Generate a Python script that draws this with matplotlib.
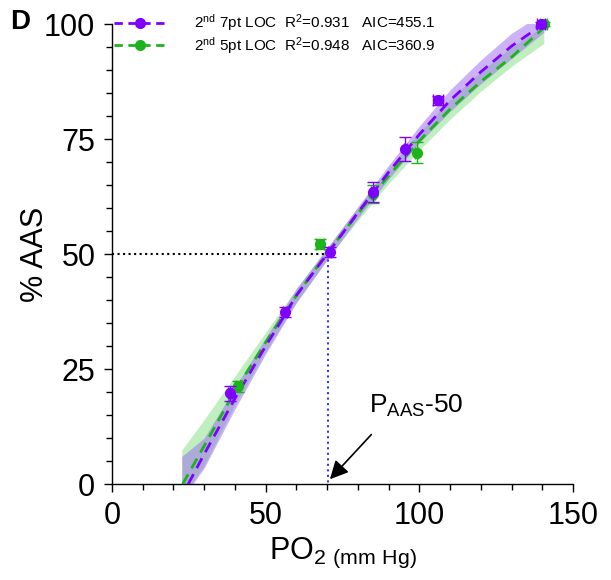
import numpy as np
import matplotlib
matplotlib.use("Agg")
import matplotlib.pyplot as plt
from matplotlib.lines import Line2D

plt.rcParams['font.family'] = ['Liberation Sans', 'DejaVu Sans']
plt.rcParams['mathtext.default'] = 'regular'

# measured points (PO2, %AAS) with errors
px7 = [38.4, 56.3, 70.9, 84.8, 95.5, 106.2, 139.6]
py7 = [19.7, 37.4, 50.4, 63.5, 72.8, 83.4, 100.0]
px7_err = [0.6, 0.5, 0.5, 0.5, 0.6, 1.6, 1.2]
py7_err = [1.7, 1.0, 1.1, 2.2, 2.6, 1.0, 0.5]

px5 = [41.0, 67.7, 85.0, 99.2, 140.5]
py5 = [21.3, 52.2, 63.0, 72.0, 100.0]
px5_err = [0.6, 1.2, 0.5, 0.5, 1.2]
py5_err = [1.2, 1.0, 2.0, 2.3, 0.5]

# fitted curves
fit7_x = [24.8, 30, 40, 50, 56.3, 60, 70, 80, 90, 100, 110, 120, 130, 140.3]
fit7_y = [0.0, 6.5, 18.6, 30.0, 36.8, 41.0, 50.0, 59.0, 67.8, 76.0, 83.4, 89.6, 95.2, 100.0]
fit5_x = [23.0, 30, 40, 50, 60, 70, 80, 90, 100, 110, 120, 130, 141.0]
fit5_y = [0.0, 8.3, 20.2, 30.8, 41.0, 50.2, 58.8, 67.0, 74.6, 81.5, 87.5, 92.8, 99.5]

# confidence bands
band_x = [22.7, 30, 40, 50, 60, 70, 80, 90, 100, 110, 120, 130, 140.5]
band7_lo = [-3.5, 3.5, 16.3, 28.3, 39.4, 48.7, 57.8, 66.3, 74.2, 81.0, 87.0, 92.5, 98.2]
band7_hi = [6.0, 10.0, 21.0, 31.8, 42.5, 51.3, 60.3, 69.3, 77.8, 85.7, 92.2, 98.0, 102.5]
band5_lo = [-3.0, 4.0, 17.3, 28.8, 39.6, 48.9, 57.3, 65.3, 72.6, 79.3, 85.4, 90.8, 95.8]
band5_hi = [7.4, 14.0, 23.5, 33.0, 42.5, 51.4, 60.1, 68.6, 76.5, 83.6, 89.7, 95.0, 99.6]

p50_x = 70.3
p50_y = 50

purple = '#7f00ff'
green = '#1db31d'

fig = plt.figure(figsize=(6.11, 5.8), dpi=100)
ax = fig.add_axes([0.1833, 0.1655, 0.7545, 0.793])

ax.fill_between(band_x, band5_lo, band5_hi, color='#80e080', alpha=0.5, lw=0, zorder=1)
ax.fill_between(band_x, band7_lo, band7_hi, color='#9a68f0', alpha=0.5, lw=0, zorder=2)

ax.plot([0, p50_x], [p50_y, p50_y], color='black', ls=':', lw=1.5, zorder=3)
ax.plot([p50_x, p50_x], [p50_y, 0], color='#3a3ad0', ls=':', lw=1.5, zorder=3)

ax.plot(fit5_x, fit5_y, color=green, ls=(0, (4, 2.5)), lw=2, zorder=4)
ax.plot(fit7_x, fit7_y, color=purple, ls=(0, (4, 2.5)), lw=2, zorder=5)

ax.errorbar(px5, py5, xerr=px5_err, yerr=py5_err, fmt='o', color=green, ms=7,
            elinewidth=1, capsize=4, capthick=1, zorder=6, clip_on=False)
ax.errorbar(px7, py7, xerr=px7_err, yerr=py7_err, fmt='o', color=purple, ms=7,
            elinewidth=1, capsize=4, capthick=1, zorder=7, clip_on=False)

ax.annotate('', xy=(p50_x, 0.6), xytext=(85.0, 11.2),
            arrowprops=dict(arrowstyle='-|>,head_length=1.1,head_width=0.55',
                            color='black', lw=1.2), annotation_clip=False, zorder=8)
ax.text(83.5, 15.5, r'P$_{AAS}$-50', fontsize=19, ha='left', va='baseline')

ax.set_xlim(0, 150)
ax.set_ylim(0, 100)
ax.set_xticks([0, 50, 100, 150])
ax.set_xticks(np.arange(0, 151, 10), minor=True)
ax.set_yticks([0, 25, 50, 75, 100])
ax.set_yticks(np.arange(0, 101, 5), minor=True)
ax.tick_params(labelsize=22, width=1, length=6, pad=6)
ax.tick_params(which='minor', width=1, length=4)
for s in ['top', 'right']:
    ax.spines[s].set_visible(False)
ax.spines['left'].set_linewidth(1)
ax.spines['bottom'].set_linewidth(1)

ax.set_xlabel(r'PO$_{2\ (mm\ Hg)}$', fontsize=22, labelpad=4)
ax.set_ylabel('% AAS', fontsize=22, labelpad=-4)

fig.text(0.016, 0.962, 'D', fontsize=20, fontweight='bold', va='center')

handles = [Line2D([], [], color=purple, ls=(0, (3, 2)), lw=2, marker='o', ms=7),
           Line2D([], [], color=green, ls=(0, (3, 2)), lw=2, marker='o', ms=7)]
labels = [r'2$^{nd}$ 7pt LOC  R$^{2}$=0.931   AIC=455.1',
          r'2$^{nd}$ 5pt LOC  R$^{2}$=0.948   AIC=360.9']
ax.legend(handles, labels, loc='upper left', bbox_to_anchor=(0.005, 1.025),
          frameon=False, fontsize=11, handlelength=3.3, handletextpad=1.9,
          labelspacing=0.1, borderpad=0, borderaxespad=0)

fig.savefig('out.png', dpi=100)
